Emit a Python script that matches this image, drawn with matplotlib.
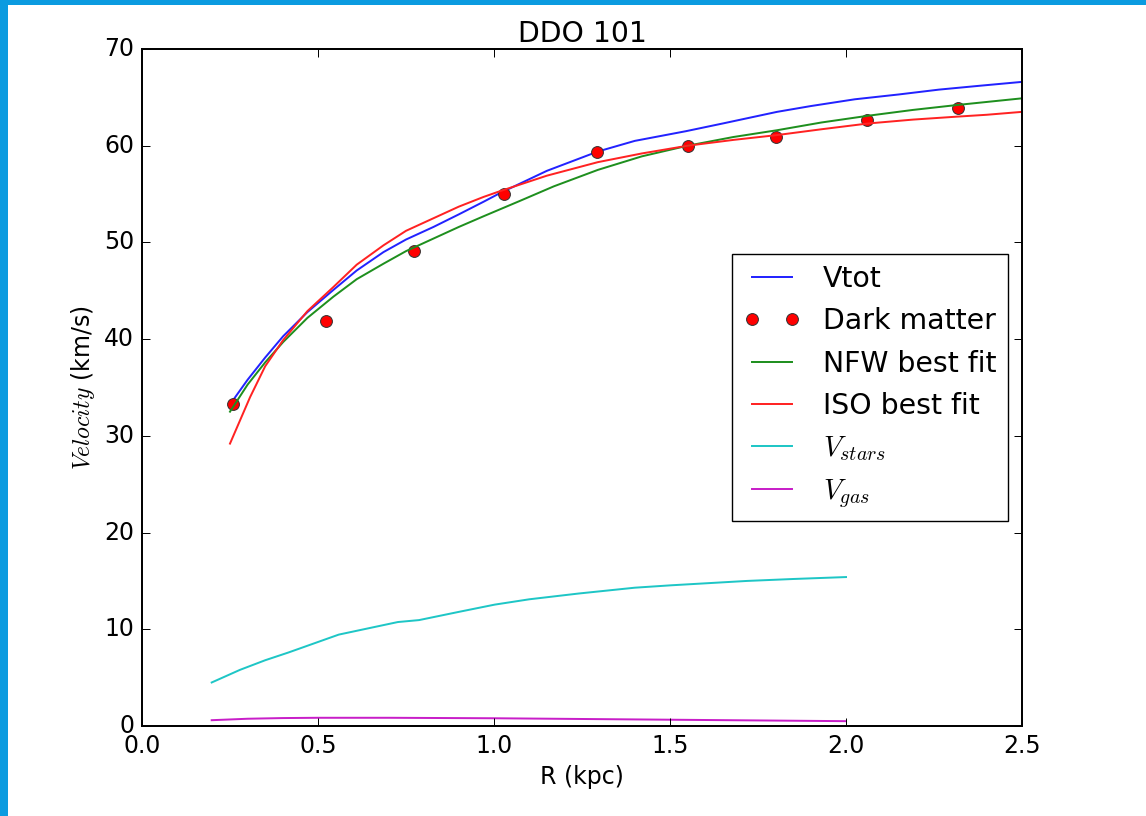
import matplotlib
matplotlib.use("Agg")
import matplotlib.pyplot as plt
from matplotlib.patches import Rectangle

# ---- data ----
r_dm = [0.258, 0.523, 0.773, 1.029, 1.294, 1.550, 1.802, 2.061, 2.318]
v_dm = [33.3, 41.9, 49.1, 55.0, 59.3, 60.0, 60.9, 62.7, 63.9]

r_tot = [0.255, 0.30, 0.35, 0.401, 0.47, 0.544, 0.61, 0.686, 0.75, 0.828, 0.90, 0.970, 1.017,
         1.15, 1.295, 1.40, 1.545, 1.65, 1.804, 1.90, 2.025, 2.15, 2.264, 2.38, 2.5]
v_tot = [33.5, 35.8, 38.1, 40.3, 42.8, 45.1, 47.1, 49.0, 50.3, 51.6, 52.9, 54.2, 55.1,
         57.4, 59.4, 60.5, 61.5, 62.3, 63.5, 64.1, 64.8, 65.3, 65.8, 66.2, 66.6]

r_nfw = [0.25, 0.30, 0.35, 0.401, 0.47, 0.544, 0.61, 0.686, 0.75, 0.828, 0.90, 0.970, 1.074,
         1.17, 1.295, 1.42, 1.55, 1.68, 1.804, 1.93, 2.063, 2.19, 2.313, 2.5]
v_nfw = [32.5, 35.3, 37.6, 39.7, 42.2, 44.4, 46.2, 47.8, 49.1, 50.4, 51.6, 52.7, 54.3,
         55.8, 57.5, 58.9, 60.0, 60.9, 61.6, 62.4, 63.1, 63.7, 64.2, 64.9]

r_iso = [0.25, 0.307, 0.35, 0.401, 0.47, 0.544, 0.61, 0.686, 0.75, 0.828, 0.90, 0.970, 1.017,
         1.15, 1.295, 1.42, 1.55, 1.68, 1.804, 1.93, 2.063, 2.19, 2.313, 2.4, 2.5]
v_iso = [29.2, 34.0, 37.2, 39.9, 42.9, 45.4, 47.7, 49.7, 51.2, 52.5, 53.7, 54.7, 55.3,
         56.9, 58.3, 59.2, 60.0, 60.6, 61.1, 61.7, 62.3, 62.7, 63.0, 63.2, 63.5]

r_star = [0.198, 0.278, 0.35, 0.416, 0.559, 0.727, 0.787, 0.90, 1.002, 1.10, 1.241, 1.40,
          1.504, 1.719, 1.85, 2.0]
v_star = [4.5, 5.8, 6.8, 7.6, 9.45, 10.75, 10.95, 11.8, 12.55, 13.1, 13.7, 14.3,
          14.55, 15.0, 15.2, 15.4]

r_gas = [0.198, 0.30, 0.40, 0.50, 0.70, 1.0, 1.5, 2.0]
v_gas = [0.6, 0.75, 0.82, 0.85, 0.85, 0.8, 0.65, 0.5]

title = "DDO 101"
xlabel = "R (kpc)"
ylabel = r"$Velocity$ (km/s)"

# ---- style ----
plt.style.use("classic")
s = 1.42
plt.rcParams.update({
    "font.family": "DejaVu Sans",
    "font.size": 12 * s,
    "mathtext.fontset": "cm",
    "lines.linewidth": 1.0 * s,
    "lines.markersize": 6 * s,
    "lines.markeredgewidth": 0.5 * s,
    "axes.linewidth": 1.0 * s,
    "xtick.major.size": 4 * s,
    "ytick.major.size": 4 * s,
    "xtick.major.width": 0.5 * s,
    "ytick.major.width": 0.5 * s,
    "xtick.major.pad": 4 * s,
    "ytick.major.pad": 4 * s,
    "legend.fontsize": 14.4 * s,
})

W, H = 1146, 816
fig = plt.figure(figsize=(W / 100, H / 100), dpi=100, facecolor="white")
ax = fig.add_axes([142 / W, 1 - 726 / H, (1022 - 142) / W, (726 - 49) / H])

ax.plot(r_tot, v_tot, color="#2222ff", label="Vtot")
ax.plot(r_dm, v_dm, "o", color="#ff0000", markeredgecolor="#333333", label="Dark matter")
ax.plot(r_nfw, v_nfw, color="#1e8f1e", label="NFW best fit")
ax.plot(r_iso, v_iso, color="#ff2222", label="ISO best fit")
ax.plot(r_star, v_star, color="#1ec6c6", label=r"$V_{stars}$")
ax.plot(r_gas, v_gas, color="#c81ec8", label=r"$V_{gas}$")

ax.set_xlim(0, 2.5)
ax.set_ylim(0, 70)
ax.set_xticks([0.0, 0.5, 1.0, 1.5, 2.0, 2.5])
ax.set_yticks(range(0, 71, 10))
ax.set_title(title, fontsize=14.4 * s)
ax.set_xlabel(xlabel)
ax.set_ylabel(ylabel)
ax.legend(loc="center right", numpoints=2)

# screenshot frame (blue bars on top and left)
fig.patches.append(Rectangle((0, 1 - 5 / H), 1, 5 / H, transform=fig.transFigure,
                             facecolor="#0b9be0", edgecolor="none", zorder=10))
fig.patches.append(Rectangle((0, 0), 8 / W, 1, transform=fig.transFigure,
                             facecolor="#0b9be0", edgecolor="none", zorder=10))

fig.savefig("out.png", dpi=100, facecolor="white")
